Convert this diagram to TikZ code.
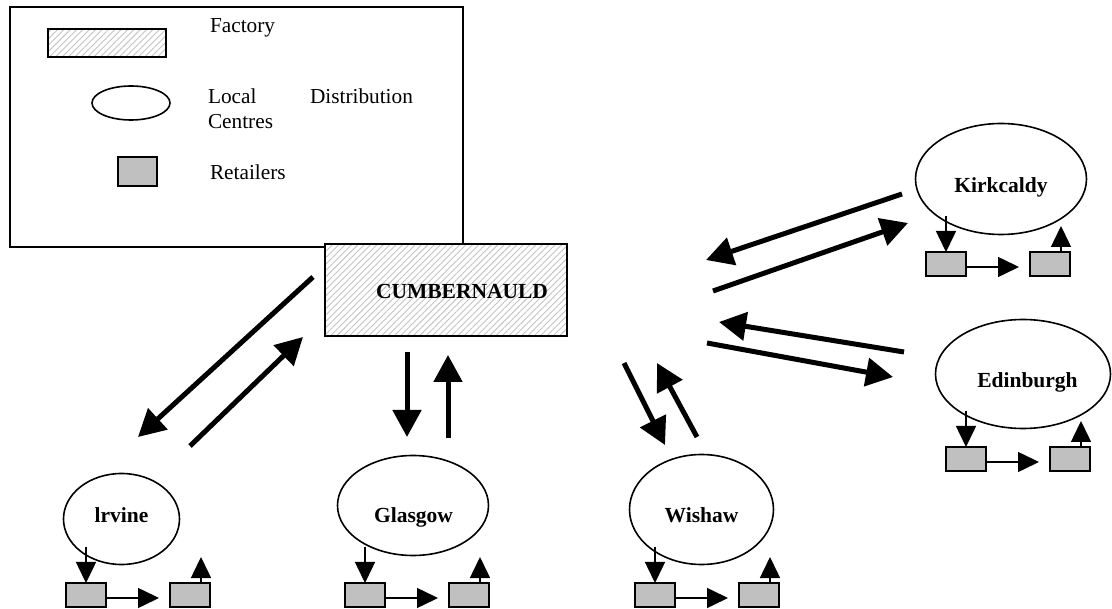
\documentclass[tikz,border=0pt]{standalone}
\usepackage{fontspec}
\setmainfont{Liberation Serif}
\usetikzlibrary{arrows.meta,patterns.meta,shapes.geometric}
\definecolor{shopgray}{HTML}{C0C0C0}
\definecolor{hatchgray}{HTML}{C4C4C4}
\tikzset{
  every node/.style={font=\fontsize{21.3}{25}\selectfont, inner sep=0pt, outer sep=0pt},
  factory/.style={draw, line width=2pt, preaction={fill=white},
    pattern={Lines[angle=45,distance=4.5pt,line width=0.9pt]}, pattern color=hatchgray},
  centre/.style={draw, ellipse, line width=1.6pt, fill=white},
  shop/.style={draw, line width=2pt, fill=shopgray, minimum width=40pt, minimum height=24pt},
  legendbox/.style={draw, line width=2pt},
  txt/.style={anchor=base west},
  lbl/.style={anchor=base, font=\fontsize{21.5}{25}\selectfont\bfseries},
  thickarrow/.style={line width=5pt, -{Triangle[length=27pt,width=28pt]}},
  thinarrow/.style={line width=1.5pt, -{Triangle[length=21pt,width=20pt]}}
}
\newcommand\retailers[3]{%
  \node[shop] (#1a) at ({#2+21},{#3+13}) {};
  \node[shop] (#1b) at ({#2+125},{#3+13}) {};
  \coordinate (#1in) at ({#2+21},{#3-35});
  \coordinate (#1out) at ({#2+136},{#3-25});
  \draw[thinarrow] (#1in) -- (#1a.north);
  \draw[thinarrow, shorten >=11pt] ([yshift=-3pt]#1a.east) -- ([yshift=-3pt]#1b.west);
  \draw[thinarrow] (#1b.north -| #1out) -- (#1out);
}
\begin{document}
\begin{tikzpicture}[x=1pt,y=-1pt]
\useasboundingbox (0,0) rectangle (1112,609);
% legend
\node[legendbox, minimum width=453pt, minimum height=240pt] (legend) at (236.5,127) {};
\node[factory, minimum width=118pt, minimum height=28pt] (lfactory) at (107,43) {};
\node[txt] (tfactory) at (210,32.5) {Factory};
\node[centre, minimum width=78pt, minimum height=34pt] (lcentre) at (131,103) {};
\node[txt] (tlocal) at (208,104) {Local};
\node[txt] (tdist) at (310,104) {Distribution};
\node[txt] (tcentres) at (208,128.5) {Centres};
\node[shop, minimum width=39pt, minimum height=29pt] (lshop) at (137.5,171.5) {};
\node[txt] (tretail) at (210,180) {Retailers};
% factory
\node[factory, minimum width=242pt, minimum height=92pt] (cumb) at (446,290) {};
\node[lbl] (cumbtext) at (462,299) {CUMBERNAULD};
% local centres
\node[centre, minimum width=116pt, minimum height=91pt] (irvine) at (121.5,519) {};
\node[lbl] (irvinet) at (121.5,522) {lrvine};
\node[centre, minimum width=151pt, minimum height=100pt] (glasgow) at (413,505.5) {};
\node[lbl] (glasgowt) at (413.5,522) {Glasgow};
\node[centre, minimum width=144pt, minimum height=110pt] (wishaw) at (701.5,509.5) {};
\node[lbl] (wishawt) at (701.5,522) {Wishaw};
\node[centre, minimum width=171pt, minimum height=111pt] (kirk) at (1001,179) {};
\node[lbl] (kirkt) at (1001,193) {Kirkcaldy};
\node[centre, minimum width=175pt, minimum height=109pt] (edin) at (1023,374) {};
\node[lbl] (edint) at (1027.5,387.5) {Edinburgh};
% retailers
\retailers{ir}{65}{582}
\retailers{gl}{344}{582}
\retailers{wi}{634}{582}
\retailers{ki}{925}{251}
\retailers{ed}{945}{446}
% flows
\coordinate (a1s) at (313,277); \coordinate (a1e) at (138,437);
\coordinate (a2s) at (190,446); \coordinate (a2e) at (303,337);
\coordinate (g1s) at (407,352); \coordinate (g1e) at (407,437);
\coordinate (g2s) at (448,438); \coordinate (g2e) at (448,355);
\coordinate (w1s) at (624,363); \coordinate (w1e) at (665,445);
\coordinate (w2s) at (697,437); \coordinate (w2e) at (657,363);
\coordinate (k1s) at (902,194); \coordinate (k1e) at (706,260);
\coordinate (k2s) at (713,291); \coordinate (k2e) at (908,223);
\coordinate (e1s) at (904,352); \coordinate (e1e) at (719,322);
\coordinate (e2s) at (707,343); \coordinate (e2e) at (893,377);
\foreach \p in {a1,a2,g1,g2,w1,w2,k1,k2,e1,e2}
  \draw[thickarrow] (\p s) -- (\p e);
\end{tikzpicture}
\end{document}
